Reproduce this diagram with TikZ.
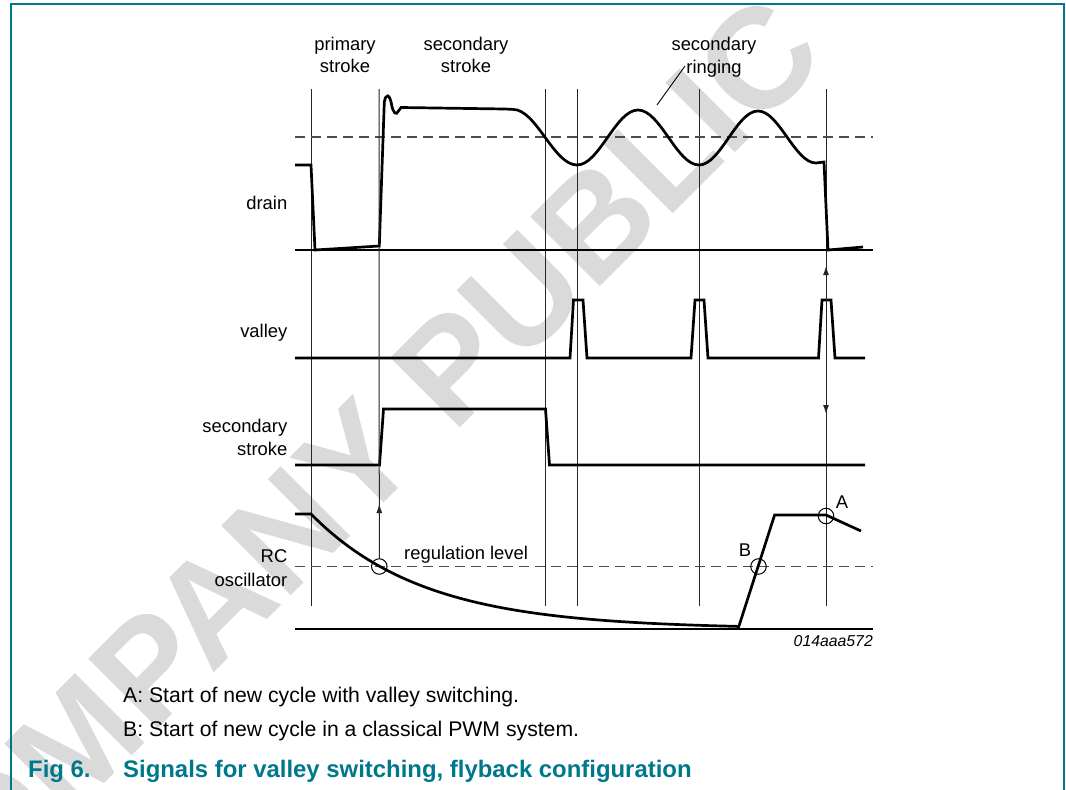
\documentclass[tikz,border=0pt]{standalone}
\usepackage{fontspec}
\setmainfont{Liberation Sans}
\usetikzlibrary{arrows.meta}
\definecolor{nxpteal}{RGB}{0,120,140}
\definecolor{wmgray}{RGB}{218,218,218}
\begin{document}
\begin{tikzpicture}[x=1pt,y=-1pt,
  trace/.style={line width=2.7pt, line join=miter, miter limit=4},
  gridline/.style={line width=1pt, black!85},
  refline/.style={line width=1.1pt, black!70, dash pattern=on 10pt off 6pt},
  baseln/.style={line width=1.1pt, black},
  lbl/.style={font=\fontsize{18.4}{22}\selectfont, inner sep=0pt},
  caption/.style={font=\fontsize{21.2}{25}\selectfont, inner sep=0pt, anchor=base west},
  figtitle/.style={font=\fontsize{23.9}{28}\selectfont\bfseries, text=nxpteal, inner sep=0pt, anchor=base west},
  mark circ/.style={circle, draw, line width=1pt, minimum size=15.5pt, inner sep=0pt},
  tip/.style={-{Latex[length=9pt,width=6pt]}},
]
\useasboundingbox (0,0) rectangle (1066,790);
% watermark
\node[rotate=45, font=\fontsize{143}{143}\selectfont\bfseries, text=wmgray, inner sep=0pt] (wm) at (338,480) {COMPANY PUBLIC};
% frame
\draw[nxpteal, line width=2pt] (11,790) -- (11,4) -- (1064,4) -- (1064,790);

% vertical grid lines
\foreach \n/\xx in {a/311,c/545,d/577,e/699,f/826}{
  \coordinate (\n t) at (\xx,89);
  \coordinate (\n b) at (\xx,606);
  \draw[gridline] (\n t) -- (\n b);
}
\coordinate (bt) at (379,89);

% reference lines
\coordinate (dl1) at (295,137); \coordinate (dl2) at (873,137);
\draw[refline] (dl1) -- (dl2);
\coordinate (rl1) at (295,566.5); \coordinate (rl2) at (873,566.5);
\draw[refline] (rl1) -- (rl2);
\coordinate (bl1) at (295,250); \coordinate (bl2) at (873,250);
\draw[baseln] (bl1) -- (bl2);
\coordinate (bl3) at (295,629); \coordinate (bl4) at (873,629);
\draw[baseln] (bl3) -- (bl4);

% drain
\draw[trace] (295,165) -- (311,165) -- (315,250) -- (379.3,246) -- (384.3,102)
  .. controls (386,93) and (389.5,94) .. (391.5,104)
  .. controls (393,113) and (396,116) .. (398.5,111)
  -- (401,107.5) -- (505,109) .. controls (509,109.2) and (511,109.3) .. (513,109.4)
  cos (545,137.2) sin (577,165) cos (607.5,137.5) sin (638,110)
  cos (668.5,137.5) sin (699,165) cos (728.5,138) sin (758,111)
  cos (787,137) sin (816,163) -- (824,162) -- (828,250) -- (863,247);

% valley
\draw[trace] (295,358) -- (570,358) -- (573.5,300) -- (583,300) -- (587,358)
  -- (691,358) -- (695,300) -- (704,300) -- (708,358)
  -- (818.5,358) -- (822,300) -- (831,300) -- (835,358) -- (865,358);

% secondary stroke
\draw[trace] (295,465) -- (379.5,465) -- (383.5,409) -- (545.5,409) -- (549.5,465) -- (865,465);

% RC oscillator
\draw[trace] (295,514) -- (311,514)
  -- plot[domain=311:738, samples=90] (\x,{629-115*exp(-(\x-311)/113)})
  -- (738,629) -- (774.6,515) -- (826,515) -- (861,531);

% circles
\node[mark circ] (cR) at (379.3,566.5) {};
\node[mark circ] (cB) at (758.5,566.5) {};
\node[mark circ] (cA) at (826,516) {};
\node[lbl] (lA) at (842,502) {A};
\node[lbl] (lB) at (745,550) {B};

% arrows
\coordinate (arR) at (379.3,504);
\draw[gridline] (bt) -- (cR.north);
\draw[gridline, tip] (cR.north) -- (arR);
\coordinate (arUp) at (826,266);
\coordinate (arDn) at (826,414);
\draw[gridline, {Latex[length=9pt,width=6pt]}-{Latex[length=9pt,width=6pt]}] (arUp) -- (arDn);

% top labels
\node[lbl, anchor=mid] (tp1) at (345,48) {primary};
\node[lbl, anchor=mid] (tp2) at (345,70) {stroke};
\node[lbl, anchor=mid] (ts1) at (466,48) {secondary};
\node[lbl, anchor=mid] (ts2) at (466,70) {stroke};
\node[lbl, anchor=mid] (tr1) at (714,48) {secondary};
\node[lbl, anchor=mid] (tr2) at (714,71) {ringing};
\coordinate (ringA) at (685,66);
\coordinate (ringB) at (657,105);
\draw[line width=0.9pt] (ringA) -- (ringB);

% left labels
\node[lbl, anchor=base east] (ldrain) at (287.5,209) {drain};
\node[lbl, anchor=base east] (lvalley) at (287.5,337.3) {valley};
\node[lbl, anchor=base east] (lsec1) at (287.5,432.3) {secondary};
\node[lbl, anchor=base east] (lsec2) at (287.5,455) {stroke};
\node[lbl, anchor=base east] (lrc1) at (287.5,562.7) {RC};
\node[lbl, anchor=base east] (lrc2) at (287.5,586) {oscillator};

\node[lbl, anchor=base west] (lreg) at (404,559.3) {regulation level};
\node[lbl, font=\fontsize{15.8}{19}\selectfont\itshape, anchor=mid east] (code) at (873,644) {014aaa572};

% captions
\node[caption] (capA) at (123,702.7) {A: Start of new cycle with valley switching.};
\node[caption] (capB) at (123,736.7) {B: Start of new cycle in a classical PWM system.};
\node[figtitle] (fig) at (28,777.3) {Fig 6.};
\node[figtitle] (figt) at (123,777.3) {Signals for valley switching, flyback configuration};
\end{tikzpicture}
\end{document}
